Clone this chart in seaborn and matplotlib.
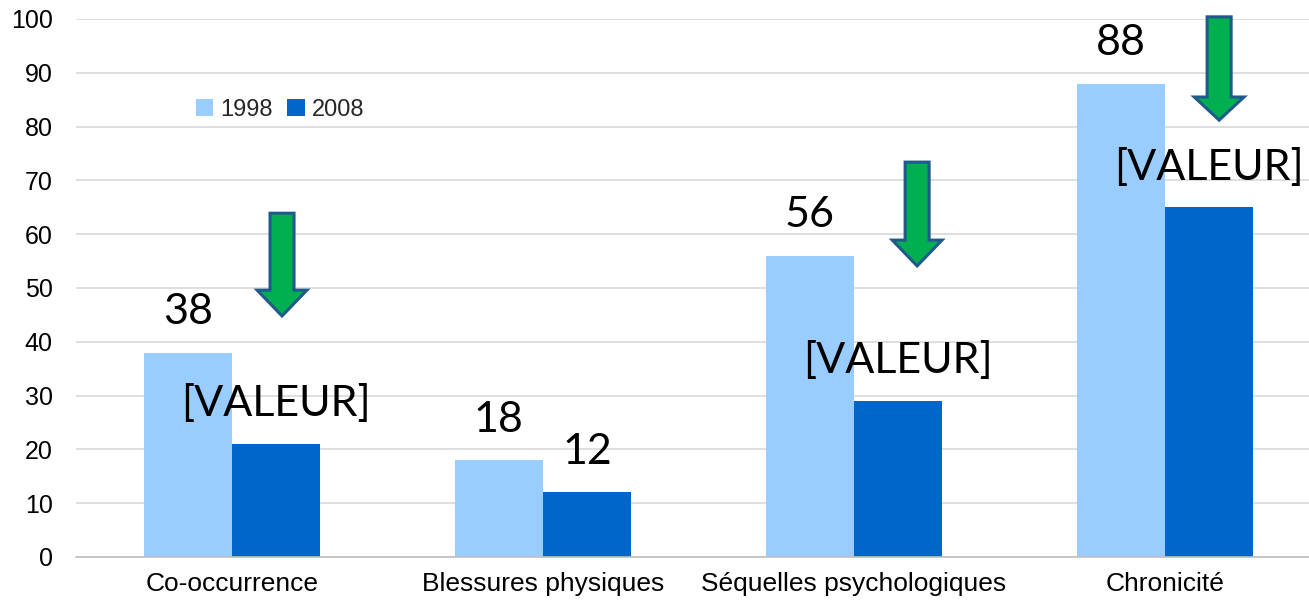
import matplotlib
matplotlib.use("Agg")
import matplotlib.pyplot as plt
import pandas as pd
import seaborn as sns
from matplotlib.patches import Polygon

categories = ["Co-occurrence", "Blessures physiques", "Séquelles psychologiques", "Chronicité"]
years = ["1998", "2008"]
values_1998 = [38, 18, 56, 88]
values_2008 = [21, 12, 29, 65]
labels_1998 = ["38", "18", "56", "88"]
labels_2008 = ["[VALEUR]", "12", "[VALEUR]", "[VALEUR]"]

# decorative down arrows (x position in category units, top / head start / tip in value units)
arrow_x = [0.161, 2.203, 3.174]
arrow_top = [63.9, 73.4, 100.4]
arrow_head = [49.6, 58.9, 85.5]
arrow_tip = [44.8, 54.1, 81.2]

df = pd.DataFrame({
    "categorie": categories * 2,
    "annee": [years[0]] * 4 + [years[1]] * 4,
    "valeur": values_1998 + values_2008,
})

sns.set_theme(style="white")
plt.rcParams["font.family"] = ["Liberation Sans", "DejaVu Sans"]

fig, ax = plt.subplots(figsize=(13.09, 6.03), dpi=100)
# the plot area runs a little past the right edge of the picture
fig.subplots_adjust(left=0.0584, right=1.0088, bottom=0.0763, top=0.9685)

sns.barplot(data=df, x="categorie", y="valeur", hue="annee", order=categories,
            palette=["#99CCFF", "#0066CC"], width=0.567, gap=0, saturation=1,
            linewidth=0, ax=ax, zorder=2)

ax.set_xlim(-0.5, 3.5)
ax.set_ylim(0, 100)
ax.set_yticks(range(0, 101, 10))
ax.yaxis.grid(True, color="#D9D9D9", linewidth=1.2, zorder=0)
ax.set_axisbelow(True)
for side in ["top", "right", "left"]:
    ax.spines[side].set_visible(False)
ax.spines["bottom"].set_color("#BFBFBF")
ax.spines["bottom"].set_linewidth(1.2)
ax.tick_params(axis="y", length=0, pad=17, labelsize=18, labelcolor="black")
ax.tick_params(axis="x", length=0, pad=11, labelsize=19, labelcolor="black")
ax.set_xlabel("")
ax.set_ylabel("")

# data labels
for container, labels in zip(ax.containers, [labels_1998, labels_2008]):
    for bar, lab in zip(container, labels):
        ax.annotate(lab, (bar.get_x() + bar.get_width() / 2, bar.get_height()),
                    xytext=(0, 29), textcoords="offset points",
                    ha="center", va="center", fontsize=31,
                    family=["Lato", "DejaVu Sans"], color="black", zorder=5)

# arrows
shaft = 0.0386
head = 0.080
for x, top, hs, tip in zip(arrow_x, arrow_top, arrow_head, arrow_tip):
    pts = [(x - shaft, top), (x + shaft, top), (x + shaft, hs), (x + head, hs),
           (x, tip), (x - head, hs), (x - shaft, hs)]
    ax.add_patch(Polygon(pts, closed=True, facecolor="#00B050", edgecolor="#1F5A8C",
                         linewidth=2.2, zorder=6, clip_on=False))

leg = ax.legend(loc="center", bbox_to_anchor=(0.1636, 0.831), ncol=2, frameon=False,
                fontsize=17, handlelength=0.75, handleheight=0.75, handletextpad=0.3,
                columnspacing=0.6, borderaxespad=0)

fig.savefig("out.png", dpi=100)
